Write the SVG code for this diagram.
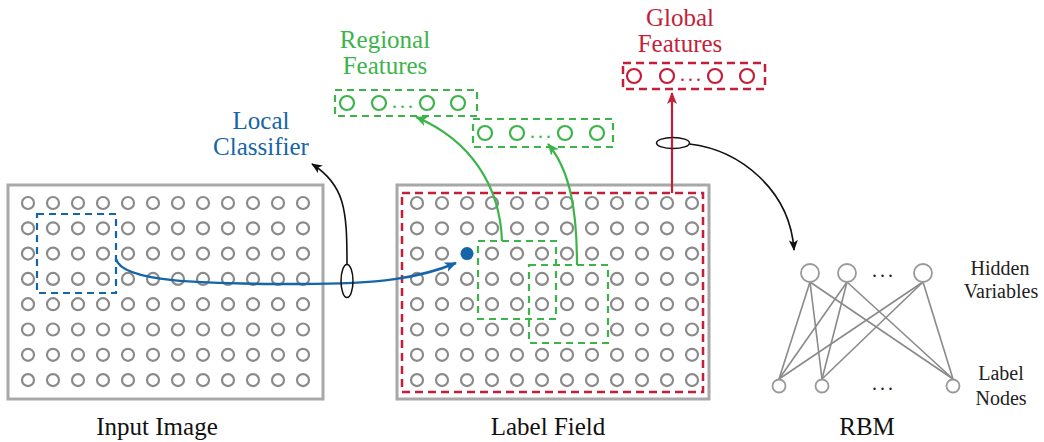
<svg xmlns="http://www.w3.org/2000/svg" width="1044" height="442" viewBox="0 0 1044 442">
<defs>
<style>
.frame{fill:none;stroke:#a8a8a8;stroke-width:3}
.t{font-family:'Liberation Serif','DejaVu Serif','Times New Roman',serif;font-size:25px;text-anchor:middle}
.s{font-family:'Liberation Serif','DejaVu Serif','Times New Roman',serif;font-size:20px;text-anchor:middle;fill:#222}
.d{font-family:'Liberation Serif','DejaVu Serif',serif;font-size:20px;text-anchor:middle;letter-spacing:3px}
.blue{fill:#1565a8}
.green{fill:#3cb44a}
.red{fill:#c41e3a}
.gbox{fill:none;stroke:#3cb44a;stroke-width:2.2;stroke-dasharray:7 5}
.rbox{fill:none;stroke:#c41e3a;stroke-width:2.5;stroke-dasharray:8 5}
.fc{fill:none;stroke-width:2.2}
.rbm line{stroke:#8a8a8a;stroke-width:1.6}
.rbm circle{fill:#fff;stroke:#999;stroke-width:1.8}
</style>
<marker id="ab" viewBox="0 0 12 10" refX="11" refY="5" markerWidth="12" markerHeight="10" markerUnits="userSpaceOnUse" orient="auto"><path d="M0,0 L12,5 L0,10 L3,5 z" fill="#1565a8"/></marker>
<marker id="ag" viewBox="0 0 12 10" refX="11" refY="5" markerWidth="12" markerHeight="10" markerUnits="userSpaceOnUse" orient="auto"><path d="M0,0 L12,5 L0,10 L3,5 z" fill="#3cb44a"/></marker>
<marker id="ar" viewBox="0 0 12 10" refX="11" refY="5" markerWidth="12" markerHeight="10" markerUnits="userSpaceOnUse" orient="auto"><path d="M0,0 L12,5 L0,10 L3,5 z" fill="#c41e3a"/></marker>
<marker id="ak" viewBox="0 0 12 10" refX="11" refY="5" markerWidth="11" markerHeight="9" markerUnits="userSpaceOnUse" orient="auto"><path d="M0,0 L12,5 L0,10 L3,5 z" fill="#111"/></marker>
<circle id="c" r="6" fill="none" stroke="#8a8a8a" stroke-width="2.2"/>
<g id="row">
<use href="#c" x="0"/><use href="#c" x="25"/><use href="#c" x="50"/><use href="#c" x="75"/><use href="#c" x="100"/><use href="#c" x="125"/><use href="#c" x="150"/><use href="#c" x="175"/><use href="#c" x="200"/><use href="#c" x="225"/><use href="#c" x="250"/><use href="#c" x="275"/>
</g>
<g id="grid">
<use href="#row" y="0"/><use href="#row" y="25.3"/><use href="#row" y="50.6"/><use href="#row" y="75.9"/><use href="#row" y="101.2"/><use href="#row" y="126.5"/><use href="#row" y="151.8"/><use href="#row" y="177.1"/>
</g>
</defs>
<rect width="1044" height="442" fill="#fff"/>

<g id="input-image">
<rect class="frame" x="8" y="185" width="315" height="214"/>
<use href="#grid" x="28" y="203"/>
<rect x="37" y="214" width="79" height="79" fill="none" stroke="#1565a8" stroke-width="2.2" stroke-dasharray="7 5"/>
<text class="t" x="157" y="435" fill="#111">Input Image</text>
</g>

<g id="label-field">
<rect class="frame" x="397" y="185" width="312" height="214"/>
<rect class="rbox" x="402" y="193" width="301" height="199"/>
<use href="#grid" x="417" y="203"/>
<circle cx="467" cy="253.6" r="7.5" fill="#fff"/>
<circle cx="467" cy="253.6" r="6.5" class="blue"/>
<rect class="gbox" x="478" y="241" width="78" height="78"/>
<rect class="gbox" x="529" y="265" width="79" height="78"/>
<text class="t" x="548" y="435" fill="#111">Label Field</text>
</g>

<g id="local-classifier">
<text class="t blue" x="261" y="129">Local</text>
<text class="t blue" x="261" y="155">Classifier</text>
</g>

<g id="regional-features">
<text class="t green" x="385" y="48">Regional</text>
<text class="t green" x="385" y="74">Features</text>
<rect class="gbox" x="335" y="90" width="142" height="26"/>
<g class="fc" stroke="#3cb44a"><circle cx="347" cy="103" r="7"/><circle cx="379" cy="103" r="7"/><circle cx="427" cy="103" r="7"/><circle cx="458" cy="103" r="7"/></g>
<text class="d green" x="404" y="108">...</text>
<rect class="gbox" x="473" y="119" width="140" height="28"/>
<g class="fc" stroke="#3cb44a"><circle cx="485" cy="133" r="7"/><circle cx="517" cy="133" r="7"/><circle cx="565" cy="133" r="7"/><circle cx="597" cy="133" r="7"/></g>
<text class="d green" x="542" y="138">...</text>
</g>

<g id="global-features">
<text class="t red" x="680" y="26">Global</text>
<text class="t red" x="680" y="52">Features</text>
<rect class="rbox" x="623" y="63" width="142" height="26"/>
<g class="fc" stroke="#c41e3a"><circle cx="634" cy="76" r="7"/><circle cx="667" cy="76" r="7"/><circle cx="715" cy="76" r="7"/><circle cx="747" cy="76" r="7"/></g>
<text class="d red" x="692" y="81">...</text>
</g>

<g id="rbm">
<g class="rbm">
<line x1="810" y1="282" x2="779" y2="379"/><line x1="810" y1="282" x2="822" y2="379"/><line x1="810" y1="282" x2="953" y2="379"/>
<line x1="847" y1="282" x2="779" y2="379"/><line x1="847" y1="282" x2="822" y2="379"/><line x1="847" y1="282" x2="953" y2="379"/>
<line x1="923" y1="282" x2="779" y2="379"/><line x1="923" y1="282" x2="822" y2="379"/><line x1="923" y1="282" x2="953" y2="379"/>
<circle cx="810" cy="273" r="9"/><circle cx="847" cy="273" r="9"/><circle cx="923" cy="273" r="9"/>
<circle cx="779" cy="386" r="6.5"/><circle cx="822" cy="386" r="6.5"/><circle cx="953" cy="386" r="6.5"/>
</g>
<text class="d" x="884" y="277" fill="#222">...</text>
<text class="d" x="884" y="390" fill="#222">...</text>
<text class="s" x="1000" y="275">Hidden</text>
<text class="s" x="1001" y="298">Variables</text>
<text class="s" x="1001" y="380">Label</text>
<text class="s" x="1001" y="405">Nodes</text>
<text class="t" x="867" y="435" fill="#111">RBM</text>
</g>

<g id="connectors" fill="none">
<path d="M116,259 C122,282 200,284 300,284 C380,284 420,278 456,263" stroke="#1565a8" stroke-width="2.5" marker-end="url(#ab)"/>
<ellipse cx="347" cy="281" rx="6" ry="16.5" stroke="#111" stroke-width="1.5"/>
<path d="M347,264.5 C347,210 345,185 312,164" stroke="#111" stroke-width="1.6" marker-end="url(#ak)"/>
<path d="M502,241 C500,185 470,140 416,117" stroke="#3cb44a" stroke-width="2.2" marker-end="url(#ag)"/>
<path d="M577,265 C577,210 570,170 548,144" stroke="#3cb44a" stroke-width="2.2" marker-end="url(#ag)"/>
<path d="M672,193 L672,93" stroke="#c41e3a" stroke-width="2.2" marker-end="url(#ar)"/>
<ellipse cx="673" cy="143" rx="16.5" ry="5.5" stroke="#111" stroke-width="1.5" fill="#fff"/>
<line x1="672" y1="137.5" x2="672" y2="148.5" stroke="#c41e3a" stroke-width="2.2"/>
<path d="M689.5,144 C740,150 790,190 794,250" stroke="#111" stroke-width="1.6" marker-end="url(#ak)"/>
</g>
</svg>
